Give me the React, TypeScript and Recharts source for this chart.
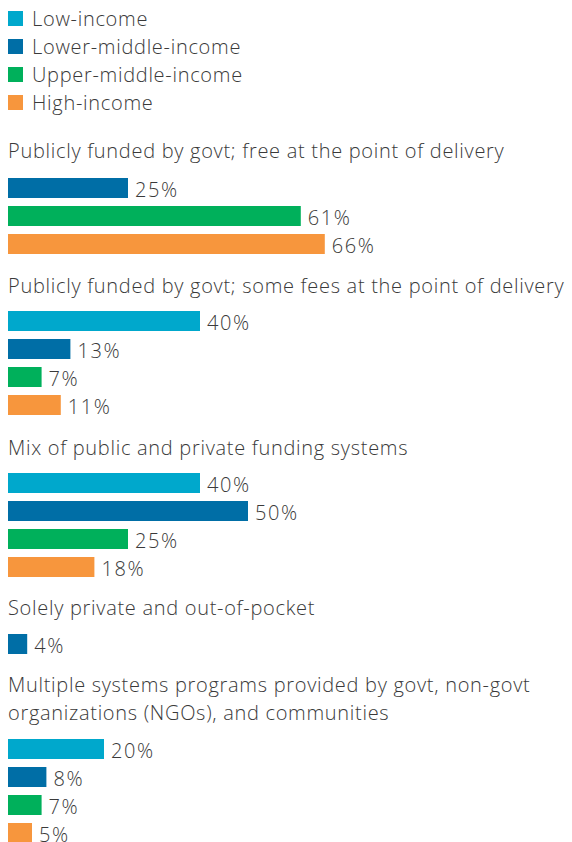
import { BarChart, Bar, XAxis, YAxis, Cell, LabelList } from "recharts";

// income groups and their colours
const incomeLevels = ["Low-income", "Lower-middle-income", "Upper-middle-income", "High-income"];
const levelColors = ["#00a8cc", "#006ea6", "#00b05b", "#f7963d"];

// financing systems (one title per group, may wrap on two lines)
const systemTitles = [
  ["Publicly funded by govt; free at the point of delivery"],
  ["Publicly funded by govt; some fees at the point of delivery"],
  ["Mix of public and private funding systems"],
  ["Solely private and out-of-pocket"],
  ["Multiple systems programs provided by govt, non-govt", "organizations (NGOs), and communities"],
];

// share of countries (%) per system, null = not reported
const lowIncome = [null, 40, 40, null, 20];
const lowerMiddleIncome = [25, 13, 50, 4, 8];
const upperMiddleIncome = [61, 7, 25, null, 7];
const highIncome = [66, 11, 18, null, 5];

const seriesByLevel = [lowIncome, lowerMiddleIncome, upperMiddleIncome, highIncome];

// page layout
const FONT = "'Open Sans', 'Liberation Sans', Arial, sans-serif";
const TEXT = "#3a3a3a";
const ROW = 28;
const titleTops = [137, 272, 434, 594, 671];
const chartTops = [174, 307, 469, 630, 735];

const GroupChart = ({ index }: { index: number }) => {
  const rows = incomeLevels
    .map((level, i) => ({ level, value: seriesByLevel[i][index], color: levelColors[i] }))
    .filter((r) => r.value !== null);

  return (
    <BarChart
      width={480}
      height={rows.length * ROW}
      data={rows}
      layout="vertical"
      margin={{ top: 0, right: 0, bottom: 0, left: 0 }}
      style={{ overflow: "visible" }}
    >
      <XAxis type="number" domain={[0, 100]} hide />
      <YAxis type="category" dataKey="level" hide />
      <Bar dataKey="value" barSize={20} isAnimationActive={false}>
        {rows.map((r) => (
          <Cell key={r.level} fill={r.color} />
        ))}
        <LabelList
          dataKey="value"
          position="right"
          offset={7}
          dy={2}
          formatter={(v: number) => `${v}%`}
          style={{ fill: TEXT, fontSize: 20, fontFamily: FONT, fontWeight: 300, letterSpacing: 1.6 }}
        />
      </Bar>
    </BarChart>
  );
};

export default function App() {
  return (
    <div
      style={{
        position: "absolute",
        left: 0,
        top: 0,
        width: 572,
        height: 842,
        overflow: "hidden",
        background: "#fff",
        fontFamily: FONT,
        fontWeight: 300,
        color: TEXT,
        letterSpacing: 0.7,
      }}
    >
      {/* legend */}
      <div style={{ position: "absolute", left: 8, top: 4 }}>
        {incomeLevels.map((level, i) => (
          <div key={level} style={{ display: "flex", alignItems: "center", height: ROW }}>
            <span style={{ width: 15, height: 15, background: levelColors[i], marginRight: 9 }} />
            <span style={{ fontSize: 20 }}>{level}</span>
          </div>
        ))}
      </div>

      {systemTitles.map((lines, g) => (
        <div key={g}>
          <div
            style={{
              position: "absolute",
              left: 8,
              top: titleTops[g],
              fontSize: 20,
              lineHeight: `${ROW}px`,
              whiteSpace: "nowrap",
            }}
          >
            {lines.map((l) => (
              <div key={l}>{l}</div>
            ))}
          </div>
          <div style={{ position: "absolute", left: 8, top: chartTops[g] }}>
            <GroupChart index={g} />
          </div>
        </div>
      ))}
    </div>
  );
}
